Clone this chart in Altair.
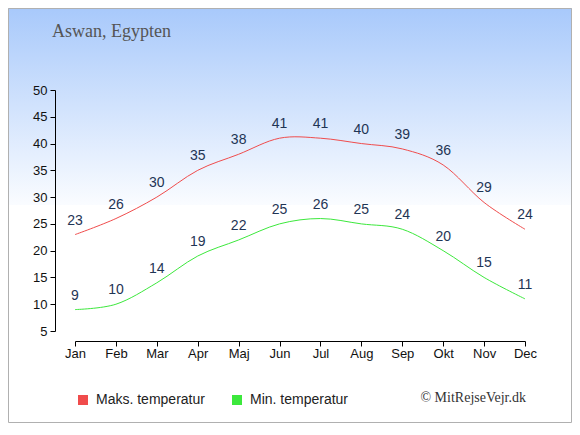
import altair as alt
import pandas as pd

months = ["Jan", "Feb", "Mar", "Apr", "Maj", "Jun", "Jul", "Aug", "Sep", "Okt", "Nov", "Dec"]
max_temp = [23, 26, 30, 35, 38, 41, 41, 40, 39, 36, 29, 24]
min_temp = [9, 10, 14, 19, 22, 25, 26, 25, 24, 20, 15, 11]
series = ["Maks. temperatur", "Min. temperatur"]
colors = ["#f04c4c", "#3ce83c"]
y_ticks = [5, 10, 15, 20, 25, 30, 35, 40, 45, 50]
title_text = "Aswan, Egypten"
credit_text = "© MitRejseVejr.dk"

rows = []
for m, v in zip(months, max_temp):
    rows.append({"month": m, "temp": v, "series": series[0]})
for m, v in zip(months, min_temp):
    rows.append({"month": m, "temp": v, "series": series[1]})
df = pd.DataFrame(rows)

W, H = 450, 241
PAD_L, PAD_T = 67, 82
TOTAL_W, TOTAL_H = 564, 415

x_enc = alt.X(
    "month:N",
    sort=months,
    scale=alt.Scale(type="point", padding=0),
    axis=alt.Axis(
        title=None, labelAngle=0, offset=10, tickSize=5, labelPadding=1,
        domainColor="#000", tickColor="#000", labelColor="#111",
        labelFont="Liberation Sans", labelFontSize=13, grid=False, zindex=1,
    ),
)
y_enc = alt.Y(
    "temp:Q",
    scale=alt.Scale(domain=[5, 50], nice=False, zero=False),
    axis=alt.Axis(
        title=None, values=y_ticks, tickCount=len(y_ticks), offset=20, tickSize=5,
        labelPadding=3, domainColor="#000", tickColor="#000", labelColor="#111",
        labelFont="Liberation Sans", labelFontSize=13, grid=False,
        labelOverlap=False, zindex=1,
    ),
)

legend_def = alt.Legend(
    title=None, orient="none", legendX=1, legendY=303, direction="horizontal",
    symbolType="square", symbolSize=100, symbolStrokeWidth=0, symbolOpacity=1,
    labelFont="Liberation Sans", labelFontSize=14, labelColor="#222",
    labelOffset=6, columnPadding=25, padding=0,
)

bg = alt.Chart(alt.Data(values=[{"a": 1}])).mark_rect(
    color=alt.LinearGradient(
        gradient="linear",
        stops=[
            alt.GradientStop(color="#a8c9fb", offset=0),
            alt.GradientStop(color="#fafcff", offset=1),
        ],
        x1=0, x2=0, y1=0, y2=1,
    )
).encode(
    x=alt.value(-PAD_L), x2=alt.value(TOTAL_W - PAD_L),
    y=alt.value(-PAD_T), y2=alt.value(115),
)

border = alt.Chart(alt.Data(values=[{"a": 1}])).mark_rect(
    fillOpacity=0, stroke="#b0b0b0", strokeWidth=1
).encode(
    x=alt.value(-PAD_L + 0.5), x2=alt.value(TOTAL_W - PAD_L - 0.5),
    y=alt.value(-PAD_T + 0.5), y2=alt.value(TOTAL_H - PAD_T - 0.5),
)

lines = alt.Chart(df).mark_line(interpolate="cardinal", strokeWidth=1).encode(
    x=x_enc, y=y_enc,
    stroke=alt.Stroke("series:N", scale=alt.Scale(domain=series, range=colors), legend=legend_def),
    detail="series:N",
)

legend_pts = alt.Chart(df).mark_point(filled=True, shape="square", size=0).encode(
    x=alt.X("month:N", sort=months),
    y=alt.Y("temp:Q"),
    fill=alt.Fill("series:N", scale=alt.Scale(domain=series, range=colors), legend=legend_def),
)

labels = alt.Chart(df).mark_text(
    dy=-14, baseline="middle", font="Liberation Sans", fontSize=14, color="#1f3555"
).encode(x=alt.X("month:N", sort=months), y=alt.Y("temp:Q"), text="temp:Q")

title = alt.Chart(alt.Data(values=[{"t": title_text}])).mark_text(
    align="left", baseline="alphabetic", font="Liberation Serif", fontSize=18, color="#555555"
).encode(x=alt.value(-23), y=alt.value(-53), text="t:N")

credit = alt.Chart(alt.Data(values=[{"t": credit_text}])).mark_text(
    align="right", baseline="middle", font="Liberation Serif", fontSize=14, color="#333333"
).encode(x=alt.value(451), y=alt.value(308), text="t:N")

chart = alt.layer(bg, border, lines, legend_pts, labels, title, credit).properties(
    width=W, height=H,
    autosize=alt.AutoSizeParams(type="none"),
    padding={"left": PAD_L, "top": PAD_T, "right": TOTAL_W - PAD_L - W, "bottom": TOTAL_H - PAD_T - H},
    background="white",
).configure_view(stroke=None)

chart.save("out.html", embed_options={"renderer": "svg", "actions": False})
